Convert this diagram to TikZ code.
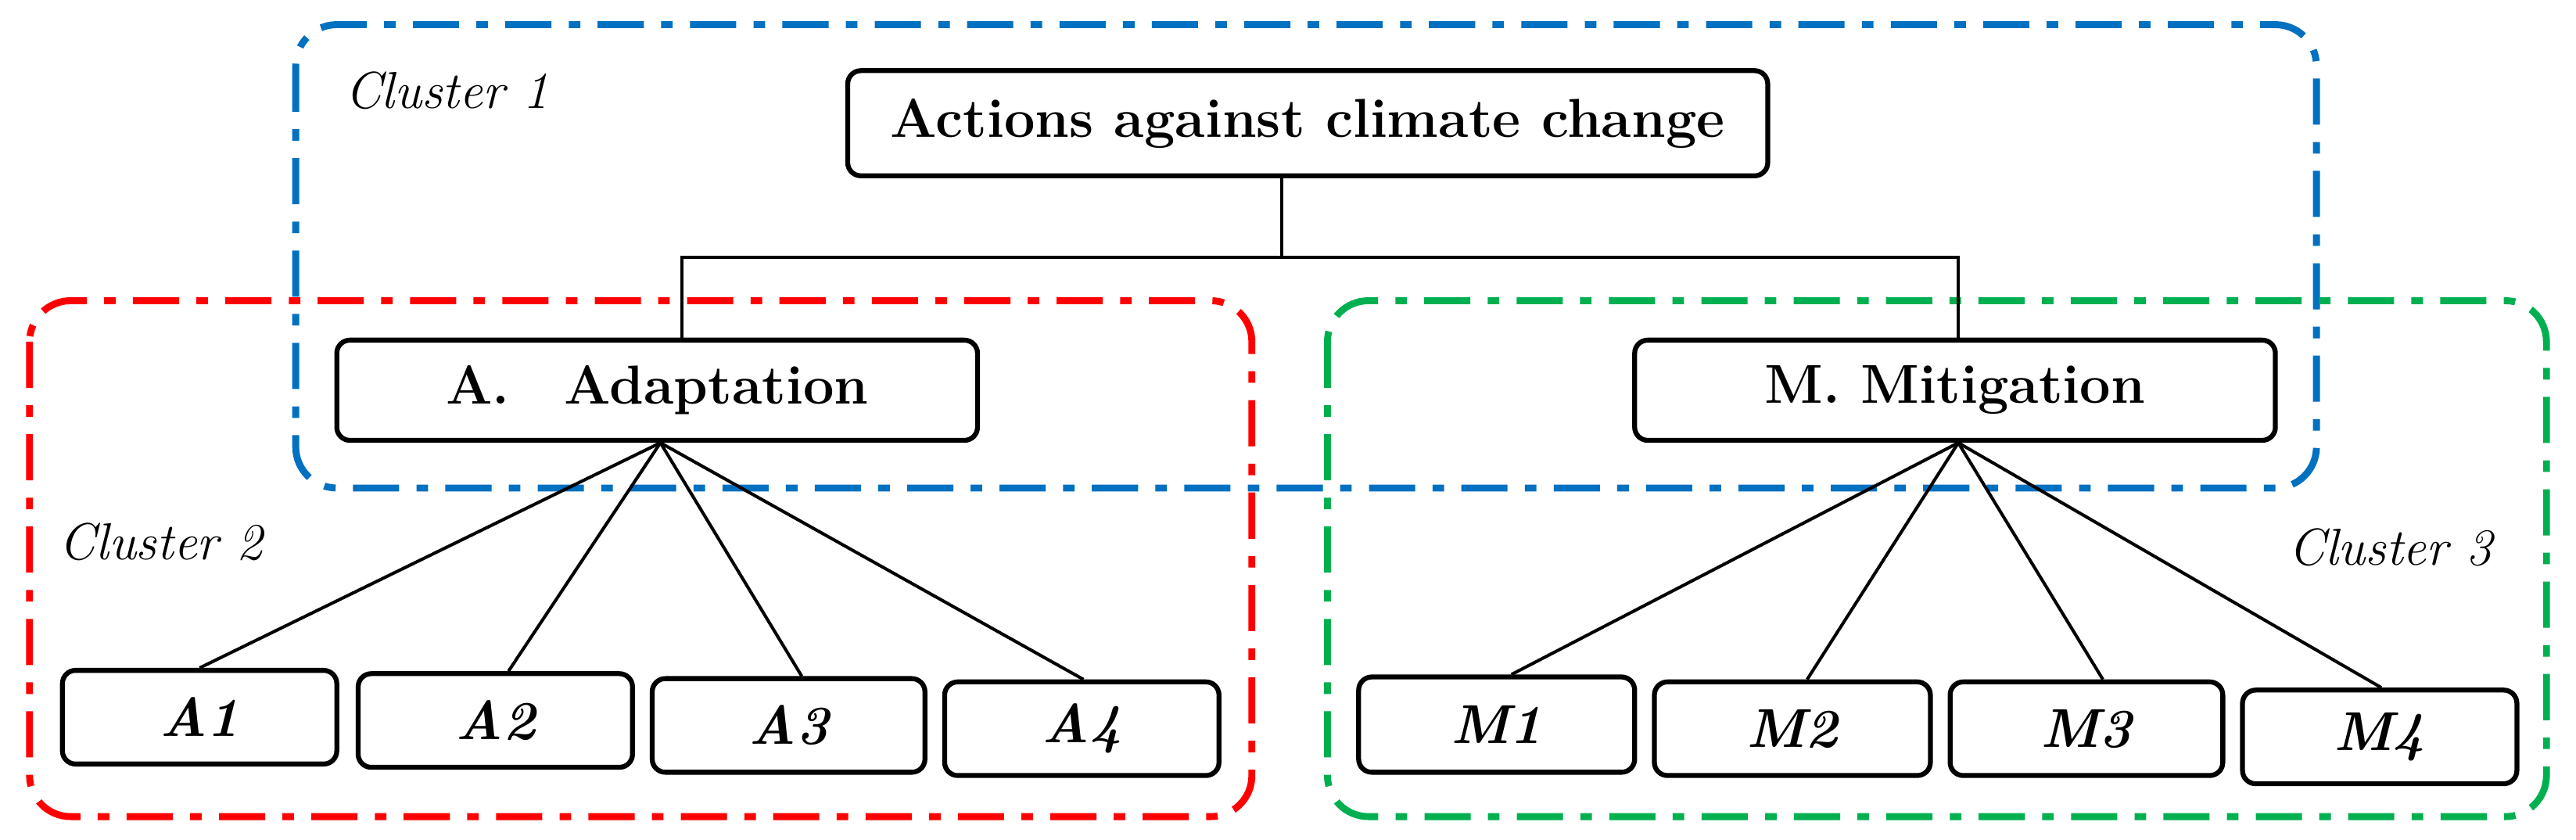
\documentclass[tikz,border=0pt]{standalone}
\usetikzlibrary{calc}
\begin{document}
\begin{tikzpicture}[x=0.02cm,y=-0.02cm,
  clus/.style={line width=2.4pt,rounded corners=0.5cm,dash pattern=on 16pt off 6pt on 4pt off 6pt},
  bx/.style={draw,line width=1.7pt,rounded corners=0.16cm,inner sep=0pt},
  ln/.style={line width=1.1pt},
  lab/.style={font=\fontsize{18}{21}\selectfont\itshape},
  itb/.style={font=\fontsize{19}{22}\selectfont\bfseries\itshape},
  txt/.style={font=\fontsize{19}{22}\selectfont\bfseries}]
\useasboundingbox (0,0) rectangle (1568,511);
\definecolor{cb}{RGB}{0,112,192}\definecolor{cr}{RGB}{255,0,0}\definecolor{cg}{RGB}{0,176,80}
\draw[clus,cb] (180,15) rectangle (1410,297);
\draw[clus,cr] (18,183) rectangle (762,497);
\draw[clus,cg] (808,183) rectangle (1550,497);
\node[lab] (c1) at (272,55) {Cluster 1};
\node[lab] (c2) at (98,330) {Cluster 2};
\node[lab] (c3) at (1455,333) {Cluster 3};
\newcommand{\bxn}[7]{\node[bx,#7,minimum width=#4*0.02cm,minimum height=#5*0.02cm] (#1) at (#2,#3) {#6};}
\bxn{top}{796}{75}{560}{64}{Actions against climate change}{txt}
\bxn{ad}{400}{237.5}{390}{61}{A.\quad Adaptation}{txt}
\bxn{mi}{1190}{237.5}{390}{61}{M. Mitigation}{txt}
\bxn{a1}{121.5}{436.5}{167}{57}{A1}{itb}
\bxn{a2}{301.5}{438.5}{167}{57}{A2}{itb}
\bxn{a3}{480}{441.5}{166}{57}{A3}{itb}
\bxn{a4}{658.5}{443.5}{167}{57}{A4}{itb}
\bxn{m1}{911}{441}{168}{58}{M1}{itb}
\bxn{m2}{1091}{443.5}{168}{57}{M2}{itb}
\bxn{m3}{1270}{443.5}{166}{57}{M3}{itb}
\bxn{m4}{1448.5}{448.5}{167}{57}{M4}{itb}
\draw[ln] ([xshift=-0.32cm]top.south) -- ++(0,48) coordinate (j);
\draw[ln] ([xshift=0.3cm]ad.north) |- (j) -| ([xshift=0.04cm]mi.north);
\foreach \t/\d in {a1/0,a2/8,a3/8,a4/1}{\draw[ln] ([xshift=0.04cm]ad.south) -- ([xshift=\d*0.02cm]\t.north);}
\foreach \t/\d in {m1/9,m2/9,m3/10,m4/1}{\draw[ln] ([xshift=0.04cm]mi.south) -- ([xshift=\d*0.02cm]\t.north);}
\end{tikzpicture}
\end{document}
